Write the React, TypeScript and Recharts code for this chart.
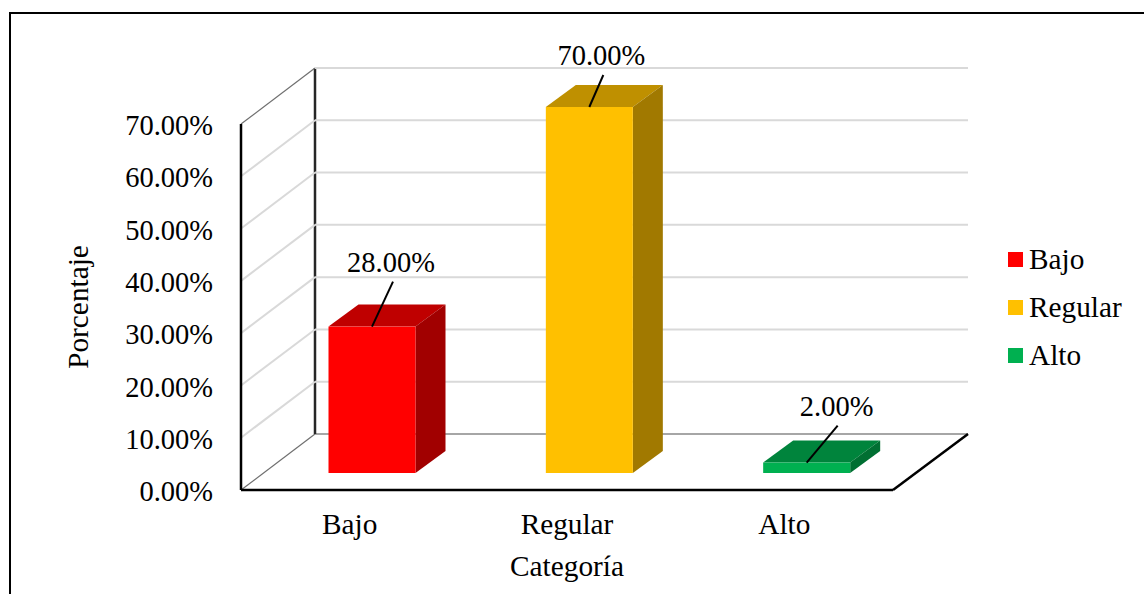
import React from 'react';
import { BarChart, Bar, XAxis, YAxis, CartesianGrid, Cell, LabelList, Legend, Label } from 'recharts';

const categories = ['Bajo', 'Regular', 'Alto'];
const percentages = [28, 70, 2];
const yTicks = [0, 10, 20, 30, 40, 50, 60, 70];
const colors = ['#FF0000', '#FFC000', '#00B050'];

const chartData = categories.map((categoria, i) => ({ categoria, porcentaje: percentages[i] }));

const FONT = '"Liberation Serif", "Times New Roman", serif';
const FONT_SIZE = 28.5;
const TITLE_SIZE = 29.3;

const WIDTH = 1144;
const HEIGHT = 594;
const X_AXIS_HEIGHT = 60;
const MARGIN = { top: 124, right: 115, bottom: 44, left: 121 };

// walls and floor recede by this much
const WALL_DX = 74;
const WALL_DY = 56;
// bars stand part way into the floor
const BAR_SHIFT_X = 22.5;
const BAR_SHIFT_Y = 17;
const BAR_DX = 30;
const BAR_DY = 22;

// leader line and text position relative to the top centre of each bar's front face
const leaders = [
  { dx: 21, dy: -45, textDx: 19, textDy: -55 },
  { dx: 14, dy: -32, textDx: 12, textDy: -42 },
  { dx: 31, dy: -37, textDx: 30, textDy: -47 },
];

const shade = (hex: string, factor: number) => {
  const n = parseInt(hex.slice(1), 16);
  const part = (v: number) => Math.round(v * factor);
  return `rgb(${part((n >> 16) & 255)},${part((n >> 8) & 255)},${part(n & 255)})`;
};

const fmt = (v: number) => `${v.toFixed(2)}%`;

// one grid line = slanted run on the side wall plus the long run on the back wall
const GridLine = (props: any) => {
  const { x1, x2, y1, index } = props;
  const plotHeight = HEIGHT - MARGIN.top - MARGIN.bottom - X_AXIS_HEIGHT;
  const isFloor = Math.abs(y1 - (MARGIN.top + plotHeight)) < 1;
  const isTop = Math.abs(y1 - MARGIN.top) < 1;
  const backX = x1 + WALL_DX;
  const backY = y1 - WALL_DY;
  return (
    <g key={`grid-${index}`}>
      <line
        x1={x1}
        y1={y1}
        x2={backX}
        y2={backY}
        stroke={isFloor || isTop ? '#6f6f6f' : '#d9d9d9'}
        strokeWidth={isFloor || isTop ? 1.2 : 2}
      />
      <line x1={backX} y1={backY} x2={x2 + WALL_DX + 1} y2={backY} stroke={isFloor ? '#a6a6a6' : '#d9d9d9'} strokeWidth={2} />
      {isFloor && (
        <>
          <line x1={backX} y1={backY} x2={backX} y2={backY - plotHeight} stroke="#262626" strokeWidth={2.5} />
          <line x1={x2} y1={y1} x2={x2 + WALL_DX + 1} y2={backY} stroke="#000" strokeWidth={2.5} />
        </>
      )}
    </g>
  );
};

const Box3D = (props: any) => {
  const { x, y, width, height, fill } = props;
  const left = x + BAR_SHIFT_X;
  const top = y - BAR_SHIFT_Y;
  const right = left + width;
  const bottom = top + height;
  return (
    <g>
      <polygon
        points={`${left},${top} ${left + BAR_DX},${top - BAR_DY} ${right + BAR_DX},${top - BAR_DY} ${right},${top}`}
        fill={shade(fill, 0.75)}
      />
      <polygon
        points={`${right},${top} ${right + BAR_DX},${top - BAR_DY} ${right + BAR_DX},${bottom - BAR_DY} ${right},${bottom}`}
        fill={shade(fill, 0.63)}
      />
      <rect x={left} y={top} width={width} height={height} fill={fill} />
    </g>
  );
};

const ValueLabel = (props: any) => {
  const { x, y, width, value, index } = props;
  const cx = x + BAR_SHIFT_X + width / 2;
  const top = y - BAR_SHIFT_Y;
  const l = leaders[index];
  return (
    <g>
      <line x1={cx} y1={top} x2={cx + l.dx} y2={top + l.dy} stroke="#000" strokeWidth={2} />
      <text
        x={cx + l.textDx}
        y={top + l.textDy}
        textAnchor="middle"
        fontFamily={FONT}
        fontSize={FONT_SIZE}
        fill="#000"
      >
        {fmt(value)}
      </text>
    </g>
  );
};

const CategoryLegend = () => (
  <div style={{ width: 136, fontFamily: FONT, fontSize: TITLE_SIZE, color: '#000' }}>
    {categories.map((name, i) => (
      <div key={name} style={{ display: 'flex', alignItems: 'center', height: 48 }}>
        <span style={{ width: 15, height: 15, background: colors[i], marginRight: 6 }} />
        <span>{name}</span>
      </div>
    ))}
  </div>
);

export default function App() {
  return (
    <div
      style={{
        position: 'absolute',
        left: 0,
        top: 0,
        width: WIDTH,
        height: HEIGHT,
        background: '#fff',
        overflow: 'hidden',
      }}
    >
      {/* outer frame, its right and bottom edges fall outside the page */}
      <div
        style={{
          position: 'absolute',
          left: 9,
          top: 12,
          width: 1160,
          height: 620,
          border: '2px solid #000',
        }}
      />
      <BarChart width={WIDTH} height={HEIGHT} data={chartData} margin={MARGIN} barCategoryGap={0} style={{ position: 'absolute' }}>
        <CartesianGrid vertical={false} horizontal={GridLine} />
        <XAxis
          dataKey="categoria"
          height={X_AXIS_HEIGHT}
          axisLine={{ stroke: '#000', strokeWidth: 2.5 }}
          tickLine={false}
          tickMargin={17}
          tick={{ fontFamily: FONT, fontSize: TITLE_SIZE, fill: '#000' }}
        >
          <Label value="Categoría" position="bottom" offset={5} fontFamily={FONT} fontSize={TITLE_SIZE} fill="#000" />
        </XAxis>
        <YAxis
          width={120}
          domain={[0, 70]}
          ticks={yTicks}
          interval={0}
          axisLine={{ stroke: '#000', strokeWidth: 2.5 }}
          tickLine={false}
          tickMargin={22}
          tickFormatter={fmt}
          tick={{ fontFamily: FONT, fontSize: FONT_SIZE, fill: '#000', dy: 1 }}
        >
          <Label
            value="Porcentaje"
            angle={-90}
            position="insideLeft"
            offset={-43}
            textAnchor="middle"
            fontFamily={FONT}
            fontSize={TITLE_SIZE}
            fill="#000"
          />
        </YAxis>
        <Legend
          layout="vertical"
          align="right"
          verticalAlign="middle"
          wrapperStyle={{ left: 1008, top: 235.5 }}
          content={<CategoryLegend />}
        />
        <Bar dataKey="porcentaje" barSize={87} shape={<Box3D />} isAnimationActive={false}>
          {chartData.map((d, i) => (
            <Cell key={d.categoria} fill={colors[i]} />
          ))}
          <LabelList dataKey="porcentaje" content={<ValueLabel />} />
        </Bar>
      </BarChart>
    </div>
  );
}
